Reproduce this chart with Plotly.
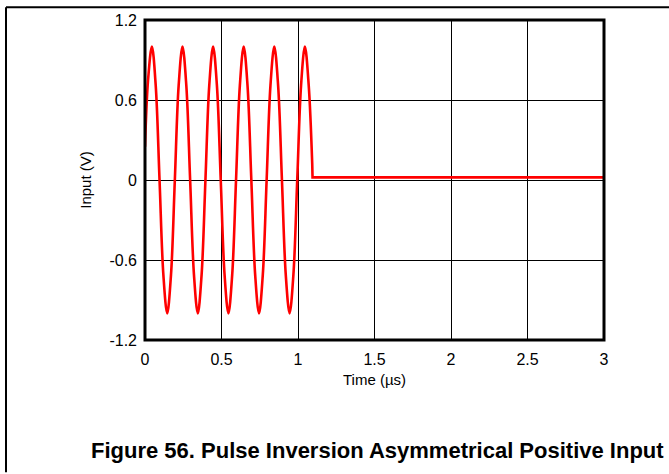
import plotly.graph_objects as go

# burst samples (time in us, input in V)
t_burst = [0.0, 0.02, 0.045, 0.07, 0.095, 0.12, 0.145, 0.17, 0.195, 0.22,
           0.245, 0.27, 0.295, 0.32, 0.345, 0.37, 0.395, 0.42,
           0.445, 0.47, 0.495, 0.52, 0.545, 0.57, 0.595, 0.62,
           0.645, 0.67, 0.695, 0.72, 0.745, 0.77, 0.795, 0.82,
           0.845, 0.87, 0.895, 0.92, 0.945, 0.97, 0.995, 1.02,
           1.045, 1.07, 1.093]
v_burst = [0.25, 0.75, 1.0, 0.71, 0.0, -0.71, -1.0, -0.71, 0.0, 0.71,
           1.0, 0.71, 0.0, -0.71, -1.0, -0.71, 0.0, 0.71,
           1.0, 0.71, 0.0, -0.71, -1.0, -0.71, 0.0, 0.71,
           1.0, 0.71, 0.0, -0.71, -1.0, -0.71, 0.0, 0.71,
           1.0, 0.71, 0.0, -0.71, -1.0, -0.71, 0.0, 0.71,
           1.0, 0.71, 0.12]

# flat tail after the burst
t_tail = [1.093, 1.095, 3.0]
v_tail = [0.12, 0.02, 0.02]

x_ticks = [0, 0.5, 1, 1.5, 2, 2.5, 3]
x_labels = ["0", "0.5", "1", "1.5", "2", "2.5", "3"]
y_ticks = [-1.2, -0.6, 0, 0.6, 1.2]
y_labels = ["-1.2", "-0.6", "0", "0.6", "1.2"]

fig = go.Figure()
fig.add_trace(go.Scatter(x=t_burst, y=v_burst, mode="lines",
                         line=dict(color="#ff0000", width=2.6, shape="spline", smoothing=1.0),
                         showlegend=False))
fig.add_trace(go.Scatter(x=t_tail, y=v_tail, mode="lines",
                         line=dict(color="#ff0000", width=2.6),
                         showlegend=False))

L, R, T, B = 145, 65, 16, 134
pw = 669 - L - R
ph = 474 - T - B


def px(x):
    return (x - L) / pw


def py(y):
    return (474 - B - y) / ph


fig.update_layout(
    width=669, height=474,
    margin=dict(l=L, r=R, t=T, b=B),
    plot_bgcolor="white", paper_bgcolor="white",
    font=dict(family="Liberation Sans, Arial", size=16, color="black"),
    showlegend=False,
    shapes=[
        dict(type="rect", xref="paper", yref="paper", x0=0, x1=1, y0=0, y1=1,
             line=dict(color="black", width=3), layer="above"),
        dict(type="line", xref="paper", yref="paper", x0=px(6), x1=px(669), y0=py(3), y1=py(3),
             line=dict(color="black", width=2)),
        dict(type="line", xref="paper", yref="paper", x0=px(6), x1=px(6), y0=py(3), y1=py(474),
             line=dict(color="black", width=2)),
    ],
    annotations=[
        dict(text="<b>Figure 56. Pulse Inversion Asymmetrical Positive Input</b>",
             xref="paper", yref="paper", x=px(377), y=py(452), showarrow=False,
             xanchor="center", yanchor="middle",
             font=dict(family="Liberation Sans, Arial", size=22, color="black")),
    ],
)

fig.update_xaxes(range=[0, 3], tickvals=x_ticks, ticktext=x_labels,
                 showgrid=True, gridcolor="black", gridwidth=1,
                 zeroline=False, showline=False, ticks="", ticklabelstandoff=8,
                 title=dict(text="Time (µs)", standoff=7, font=dict(size=15)))
fig.update_yaxes(range=[-1.2, 1.2], tickvals=y_ticks, ticktext=y_labels,
                 showgrid=True, gridcolor="black", gridwidth=1,
                 zeroline=False, showline=False, ticks="", ticklabelstandoff=7,
                 title=dict(text="Input (V)", standoff=14, font=dict(size=15)))

fig.write_html("out.html", config={"displayModeBar": False},
               post_script="document.body.style.margin='0';")
